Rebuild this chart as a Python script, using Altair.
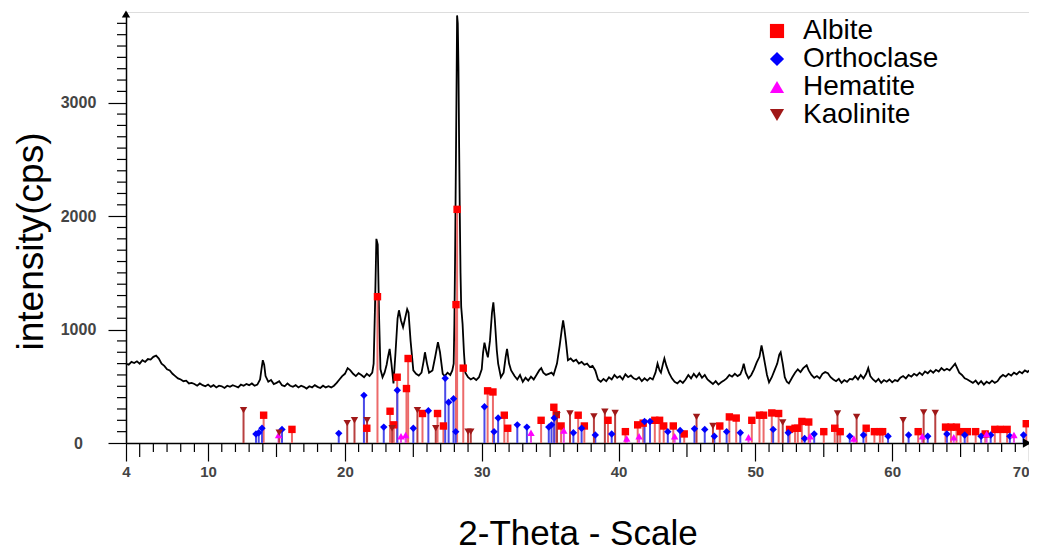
import altair as alt
import pandas as pd

# ---------------- measured diffraction pattern ----------------
two_theta = [
    4.0, 4.2, 4.4, 4.6, 4.8, 5.0, 5.2, 5.4, 5.6, 5.8, 6.0, 6.2, 6.4, 6.6, 6.8, 7.0, 7.2, 7.4, 7.6, 7.8,
    8.0, 8.2, 8.4, 8.6, 8.8, 9.0, 9.2, 9.4, 9.6, 9.8, 10.0, 10.2, 10.4, 10.6, 10.8, 11.0, 11.2, 11.4, 11.6, 11.8,
    12.0, 12.2, 12.4, 12.6, 12.8, 13.0, 13.2, 13.4, 13.6, 13.8, 13.9, 14.0, 14.1, 14.2, 14.4, 14.6, 14.8, 15.0, 15.2, 15.4,
    15.6, 15.8, 16.0, 16.2, 16.4, 16.6, 16.8, 17.0, 17.2, 17.4, 17.6, 17.8, 18.0, 18.2, 18.4, 18.6, 18.8, 19.0, 19.2, 19.4,
    19.6, 19.8, 20.0, 20.2, 20.4, 20.6, 20.8, 21.0, 21.2, 21.4, 21.6, 21.8, 22.0, 22.1, 22.2, 22.3, 22.4, 22.5, 22.6, 22.75,
    22.9, 23.05, 23.15, 23.27, 23.4, 23.55, 23.7, 23.85, 23.95, 24.1, 24.25, 24.4, 24.55, 24.65, 24.8, 25.0, 25.2, 25.4, 25.6, 25.75,
    25.85, 26.0, 26.15, 26.4, 26.6, 26.8, 26.95, 27.15, 27.3, 27.5, 27.7, 27.85, 27.95, 28.0, 28.05, 28.1, 28.15, 28.2, 28.25, 28.3,
    28.35, 28.4, 28.45, 28.5, 28.6, 28.7, 28.8, 29.0, 29.2, 29.4, 29.6, 29.8, 30.0, 30.1, 30.2, 30.35, 30.45, 30.6, 30.75, 30.85,
    30.95, 31.1, 31.2, 31.4, 31.6, 31.75, 31.85, 32.0, 32.15, 32.4, 32.6, 32.8, 33.0, 33.2, 33.4, 33.6, 33.8, 34.0, 34.2, 34.35,
    34.5, 34.7, 34.9, 35.1, 35.25, 35.5, 35.7, 35.85, 35.95, 36.05, 36.15, 36.3, 36.5, 36.7, 36.9, 37.1, 37.3, 37.5, 37.7, 37.9,
    38.1, 38.3, 38.5, 38.7, 38.9, 39.1, 39.3, 39.5, 39.7, 39.9, 40.1, 40.3, 40.5, 40.7, 40.9, 41.1, 41.3, 41.5, 41.7, 41.9,
    42.1, 42.3, 42.5, 42.7, 42.85, 43.0, 43.1, 43.25, 43.35, 43.5, 43.7, 43.9, 44.1, 44.3, 44.5, 44.7, 44.9, 45.1, 45.3, 45.5,
    45.7, 45.9, 46.1, 46.3, 46.5, 46.7, 46.9, 47.1, 47.3, 47.5, 47.7, 47.9, 48.1, 48.3, 48.5, 48.7, 48.9, 49.05, 49.15, 49.3,
    49.5, 49.7, 49.9, 50.1, 50.3, 50.45, 50.55, 50.7, 50.85, 51.0, 51.2, 51.4, 51.6, 51.75, 51.85, 52.0, 52.15, 52.3, 52.45, 52.7,
    52.9, 53.1, 53.3, 53.5, 53.75, 53.9, 54.1, 54.3, 54.5, 54.7, 54.9, 55.1, 55.3, 55.5, 55.7, 55.9, 56.1, 56.3, 56.5, 56.7,
    56.9, 57.1, 57.3, 57.5, 57.7, 57.9, 58.1, 58.25, 58.4, 58.6, 58.8, 59.0, 59.2, 59.4, 59.6, 59.8, 60.0, 60.2, 60.4, 60.6,
    60.8, 61.0, 61.2, 61.4, 61.6, 61.8, 62.0, 62.2, 62.4, 62.6, 62.8, 63.0, 63.2, 63.4, 63.6, 63.8, 64.0, 64.2, 64.4, 64.6,
    64.75, 64.9, 65.1, 65.3, 65.5, 65.7, 65.9, 66.1, 66.3, 66.5, 66.7, 66.9, 67.1, 67.3, 67.5, 67.7, 67.9, 68.1, 68.3, 68.5,
    68.7, 68.9, 69.1, 69.3, 69.5, 69.7, 69.9, 70.0,
]
intensity = [
    700, 690, 715, 705, 720, 700, 730, 715, 740, 735, 760, 770, 745, 700, 680, 650, 640, 610, 590, 570,
    560, 545, 550, 525, 530, 520, 505, 525, 510, 500, 515, 495, 510, 490, 505, 500, 485, 505, 495, 510,
    500, 490, 515, 505, 520, 510, 525, 505, 515, 560, 650, 730, 690, 590, 540, 555, 520, 530, 545, 510,
    500, 525, 505, 495, 510, 490, 505, 495, 480, 500, 490, 510, 495, 485, 505, 490, 500, 490, 505, 530,
    560, 590, 610, 660, 640, 610, 590, 615, 600, 580, 610, 590, 620, 700, 1200, 1800, 1750, 1100, 650, 580,
    620, 690, 760, 830, 700, 525, 800, 1100, 1170, 1080, 1020, 1100, 1180, 1150, 900, 640, 610, 595, 620, 720,
    800, 700, 620, 640, 760, 890, 800, 610, 590, 620, 600, 640, 700, 1050, 1600, 2300, 3000, 3770, 3700, 3300,
    2600, 2000, 1500, 1200, 1050, 800, 620, 580, 560, 575, 555, 580, 650, 800, 885, 800, 755, 900, 1150, 1240,
    1100, 820, 700, 580, 620, 760, 830, 700, 640, 590, 560, 600, 540, 575, 550, 585, 560, 600, 640, 660,
    620, 600, 610, 620, 600, 700, 860, 1000, 1080, 1000, 900, 730, 745, 720, 735, 700, 715, 690, 700, 670,
    680, 640, 560, 540, 565, 545, 580, 560, 600, 575, 590, 560, 605, 580, 595, 570, 560, 580, 545, 570,
    550, 575, 560, 620, 700, 640, 620, 700, 745, 680, 615, 570, 540, 525, 550, 530, 560, 600, 570, 610,
    580, 615, 575, 600, 560, 540, 520, 545, 515, 535, 550, 570, 600, 585, 610, 590, 605, 650, 700, 620,
    570, 600, 650, 710, 760, 860, 800, 700, 600, 535, 580, 640, 700, 780, 800, 700, 580, 540, 525, 580,
    620, 650, 625, 660, 685, 640, 600, 575, 590, 570, 610, 625, 615, 580, 560, 545, 565, 530, 555, 540,
    565, 560, 590, 560, 600, 570, 610, 660, 590, 560, 540, 565, 530, 555, 540, 560, 535, 555, 545, 575,
    590, 570, 600, 585, 610, 595, 620, 600, 630, 615, 640, 620, 645, 630, 660, 640, 655, 640, 670, 700,
    660, 620, 600, 570, 560, 545, 530, 550, 520, 545, 515, 540, 525, 550, 530, 545, 580, 600, 585, 610,
    595, 620, 605, 630, 615, 640, 625, 640,
]

# ---------------- reference patterns (stick positions / heights) ----------------
phases = ["Albite", "Orthoclase", "Hematite", "Kaolinite"]
phase_colors = ["#ff0000", "#0000ff", "#ff00ff", "#a01818"]
stick_colors = ["#ec6a6a", "#4a4ae8", "#e44ce4", "#b84040"]
phase_shapes = ["square", "diamond", "triangle-up", "triangle-down"]

albite_pos = [14.06, 16.13, 21.6, 22.38, 23.3, 23.57, 23.82, 24.5, 24.62, 25.67, 26.77, 27.2, 28.12, 28.2, 28.65,
              30.43, 30.82, 31.65, 31.9, 34.34, 35.27, 35.45, 35.8, 37.05, 37.5, 39.23, 40.5, 41.4, 41.8, 42.65,
              43.0, 43.3, 44.0, 44.8, 47.4, 48.1, 48.6, 49.74, 50.3, 50.6, 51.2, 51.7, 52.5, 52.9, 53.1,
              53.4, 53.9, 55.0, 55.8, 56.2, 58.1, 58.7, 59.1, 59.3, 61.9, 63.9, 64.3, 64.7, 65.0, 65.5,
              66.1, 66.8, 67.5, 67.9, 68.4, 69.8]
albite_int = [245, 120, 130, 1290, 280, 160, 580, 480, 745, 260, 260, 150, 1220, 2060, 660,
              460, 450, 245, 130, 200, 315, 250, 150, 245, 150, 200, 100, 160, 175, 200,
              200, 150, 150, 80, 150, 230, 220, 200, 245, 245, 265, 260, 120, 130, 130,
              190, 185, 100, 130, 100, 130, 100, 100, 100, 100, 140, 140, 140, 100, 100,
              100, 80, 120, 120, 120, 170]

orthoclase_pos = [13.5, 13.7, 13.94, 15.4, 19.55, 21.39, 22.84, 23.83, 25.0, 26.1, 27.33, 27.58, 27.94, 28.1, 30.2,
                  30.9, 31.2, 32.6, 33.3, 34.9, 35.1, 35.3, 36.7, 37.3, 38.3, 39.5, 41.9, 42.3, 43.6, 44.5,
                  45.55, 46.3, 47.0, 47.9, 48.9, 51.3, 52.4, 53.6, 54.3, 56.9, 57.9, 59.7, 61.2, 62.6, 64.0,
                  65.3, 66.5, 67.2, 68.6, 69.6]
orthoclase_int = [80, 90, 130, 120, 85, 420, 140, 465, 130, 285, 570, 360, 390, 100, 320,
                  100, 220, 160, 140, 140, 160, 220, 90, 130, 70, 80, 190, 190, 100, 110,
                  125, 120, 60, 100, 90, 120, 90, 40, 80, 60, 70, 60, 70, 60, 80,
                  70, 60, 70, 60, 70]

hematite_pos = [15.15, 24.1, 24.44, 33.6, 36.0, 40.6, 41.5, 44.1, 49.5, 54.0, 57.2, 62.2, 64.5, 66.9, 68.9]
hematite_int = [70, 60, 70, 90, 110, 40, 60, 60, 50, 60, 40, 60, 50, 80, 70]

kaolinite_pos = [12.59, 15.2, 20.17, 20.7, 21.62, 23.45, 25.3, 26.64, 29.0, 29.2, 35.5, 36.45, 38.2, 39.0, 39.75,
                 45.7, 46.9, 52.0, 56.0, 57.4, 60.8, 62.3, 63.15]
kaolinite_int = [290, 90, 175, 200, 200, 130, 290, 130, 100, 100, 245, 260, 235, 275, 265,
                 230, 150, 180, 260, 230, 200, 270, 265]

# axis tick positions
x_label_values = [4, 10, 20, 30, 40, 50, 60, 70]
x_minor_ticks = [v for v in range(5, 70) if v % 5 != 0]
x_mid_ticks = [5, 15, 25, 35, 45, 55, 65]
y_label_values = [0, 1000, 2000, 3000]
y_minor_ticks = [v for v in range(100, 3800, 100) if v % 1000 != 0]

# ---------------- tables ----------------
trace = pd.DataFrame({"two_theta": two_theta, "intensity": intensity})
rows = []
for name, pos, inten in [("Albite", albite_pos, albite_int),
                         ("Orthoclase", orthoclase_pos, orthoclase_int),
                         ("Hematite", hematite_pos, hematite_int),
                         ("Kaolinite", kaolinite_pos, kaolinite_int)]:
    for p, v in zip(pos, inten):
        rows.append({"phase": name, "pos": p, "inten": v, "base": 0})
sticks = pd.DataFrame(rows)

FONT = "Liberation Sans"
W, H = 903, 431

x_scale = alt.Scale(domain=[4, 70], nice=False, zero=False)
y_scale = alt.Scale(domain=[0, 3800], nice=False)
color_scale = alt.Scale(domain=phases, range=phase_colors)
shape_scale = alt.Scale(domain=phases, range=phase_shapes)

x_axis = alt.Axis(values=x_label_values, format="d", tickSize=18, tickColor="black", tickWidth=1.2,
                  domainColor="black", domainWidth=1.5, labelFont=FONT, labelFontSize=15,
                  labelFontWeight="bold", labelColor="#444444", labelPadding=3, labelFlush=False,
                  labelAlign=alt.expr("datum.value >= 70 ? 'right' : 'center'"),
                  labelOverlap=False, grid=False, title="2-Theta - Scale", titleFont=FONT,
                  titleFontSize=35, titleFontWeight="normal", titleColor="black", titlePadding=37)
y_axis = alt.Axis(values=y_label_values, format="d", tickSize=18, tickColor="black", tickWidth=1.2,
                  domainColor="black", domainWidth=1.5, labelFont=FONT, labelFontSize=16,
                  labelFontWeight="bold", labelColor="#444444", labelPadding=30, labelAlign="center",
                  labelFlush=False, grid=False, title="intensity(cps)", titleFont=FONT,
                  titleFontSize=37, titleFontWeight="normal", titleColor="black", titlePadding=10,
                  titleY=229)

base = alt.Chart(sticks)

line = alt.Chart(trace).mark_line(color="black", strokeWidth=1.8).encode(
    x=alt.X("two_theta:Q", scale=x_scale, axis=x_axis),
    y=alt.Y("intensity:Q", scale=y_scale, axis=y_axis),
)

rule_layers = []
for name, col in zip(phases, stick_colors):
    rule_layers.append(
        base.transform_filter(alt.datum.phase == name).mark_rule(strokeWidth=2, color=col).encode(
            x=alt.X("pos:Q", scale=x_scale, axis=x_axis),
            y=alt.Y("inten:Q", scale=y_scale, axis=y_axis),
            y2=alt.Y2("base:Q"),
        )
    )

legend = alt.Legend(title=None, orient="none", legendX=637, legendY=5, labelFont=FONT,
                    labelFontSize=28, labelColor="black", symbolSize=200, rowPadding=-1,
                    labelOffset=12, padding=0, symbolOpacity=1)
points = base.mark_point(filled=True, size=55, opacity=1).encode(
    x=alt.X("pos:Q", scale=x_scale, axis=x_axis),
    y=alt.Y("inten:Q", scale=y_scale, axis=y_axis),
    color=alt.Color("phase:N", scale=color_scale, legend=legend, sort=phases),
    shape=alt.Shape("phase:N", scale=shape_scale, legend=legend, sort=phases),
)

xminor = alt.Chart(pd.DataFrame({"t": x_minor_ticks})).mark_rule(color="black", strokeWidth=1.2).encode(
    x=alt.X("t:Q", scale=x_scale, axis=x_axis), y=alt.value(H), y2=alt.value(H + 9))
xmid = alt.Chart(pd.DataFrame({"t": x_mid_ticks})).mark_rule(color="black", strokeWidth=1.2).encode(
    x=alt.X("t:Q", scale=x_scale, axis=x_axis), y=alt.value(H), y2=alt.value(H + 14))
yminor = alt.Chart(pd.DataFrame({"t": y_minor_ticks})).mark_rule(color="black", strokeWidth=1.2).encode(
    y=alt.Y("t:Q", scale=y_scale, axis=y_axis), x=alt.value(-9), x2=alt.value(0))

arrow_df = pd.DataFrame({"a": [0]})
y_arrow = alt.Chart(arrow_df).mark_point(shape="triangle-up", filled=True, color="black", size=70, opacity=1).encode(
    x=alt.value(0), y=alt.value(2))
x_arrow = alt.Chart(arrow_df).mark_point(shape="triangle-right", filled=True, color="black", size=90, opacity=1).encode(
    x=alt.value(W - 2), y=alt.value(H))

chart = alt.layer(line, *rule_layers, points, xminor, xmid, yminor, y_arrow, x_arrow).properties(
    width=W, height=H,
    autosize=alt.AutoSizeParams(type="none"),
    padding={"left": 118, "top": 4, "right": 0, "bottom": 109},
).configure_view(stroke=None).configure_axis(grid=False).configure(background="white")

chart.save("out.html", embed_options={"renderer": "svg", "actions": False})
